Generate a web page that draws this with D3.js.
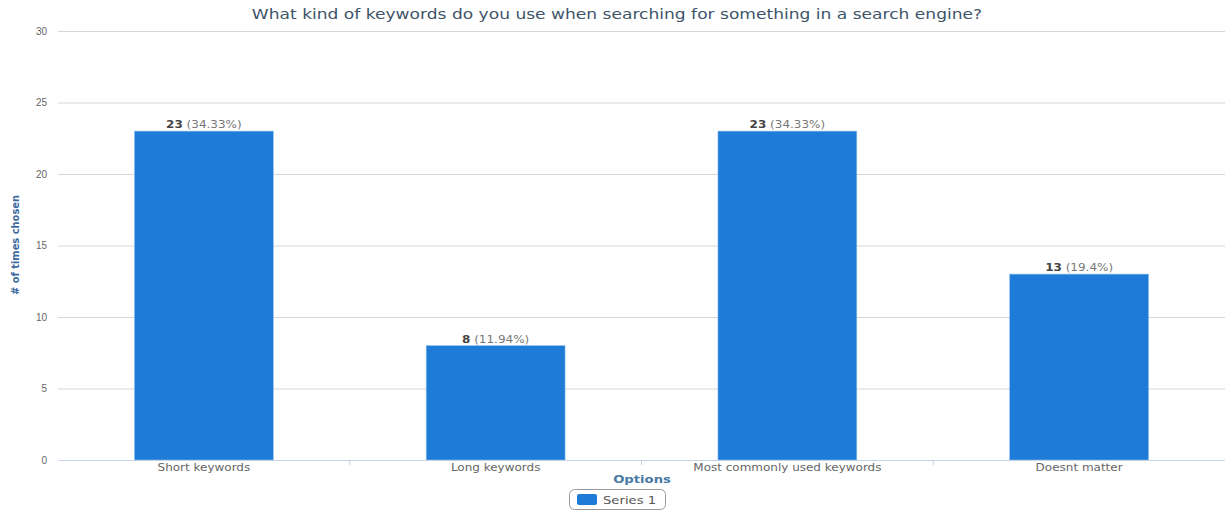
<!DOCTYPE html>
<html>
<head>
<meta charset="utf-8">
<script src="https://cdn.jsdelivr.net/npm/d3@7"></script>
<style>
  body { margin: 0; background: #fff; }
  svg { font-family: "DejaVu Sans", Verdana, sans-serif; }
</style>
</head>
<body>
<svg id="chart"></svg>
<script>
const categories = ['Short keywords', 'Long keywords', 'Most commonly used keywords', 'Doesnt matter'];
const counts = [23, 8, 23, 13];
const percents = ['34.33%', '11.94%', '34.33%', '19.4%'];
const yTicks = [0, 5, 10, 15, 20, 25, 30];

const width = 1225, height = 510;
const margin = {top: 31, right: 0, bottom: 50, left: 58};
const innerW = width - margin.left - margin.right;
const innerH = height - margin.top - margin.bottom;
const stretch = 1.2; // the source picture is a little wide

// put a text at (px,py) and widen it sideways
function place(sel, px, py, sx) {
  return sel.attr('x', 0).attr('y', 0)
    .attr('transform', (d, i) => {
      const tx = typeof px === 'function' ? px(d, i) : px;
      const ty = typeof py === 'function' ? py(d, i) : py;
      return `translate(${tx},${ty}) scale(${sx || stretch},1)`;
    });
}

const svg = d3.select('#chart').attr('width', width).attr('height', height);

svg.append('text')
    .call(place, 617, 19, 1.22)
    .attr('text-anchor', 'middle')
    .style('font-size', '14px')
    .style('fill', '#3e5468')
    .text('What kind of keywords do you use when searching for something in a search engine?');

const chart = svg.append('g')
    .attr('transform', `translate(${margin.left},${margin.top})`);

const x = d3.scaleBand().domain(categories).range([0, innerW]).paddingInner(0.524).paddingOuter(0.262);
const xOuter = d3.scaleBand().domain(categories).range([0, innerW]);
const y = d3.scaleLinear().domain([0, 30]).range([innerH, 0]);

// gridlines + y labels
const yAxis = d3.axisLeft(y).tickValues(yTicks).tickSize(-innerW).tickPadding(11);
chart.append('g')
    .call(yAxis)
    .call(g => g.select('.domain').remove())
    .call(g => g.selectAll('.tick line').attr('stroke', '#d6d6d6'))
    .call(g => g.selectAll('.tick text').style('fill', '#666').style('font-size', '10px').attr('font-family', null));

// bars
chart.selectAll('.bar')
    .data(counts)
    .enter()
  .append('rect')
    .attr('class', 'bar')
    .attr('x', (d, i) => x(categories[i]))
    .attr('y', d => y(d))
    .attr('width', x.bandwidth())
    .attr('height', d => innerH - y(d))
    .attr('fill', '#1e7bd7')
    .attr('stroke', '#8ec0ee')
    .attr('stroke-width', 0.6);

// value labels
const labels = chart.selectAll('.val')
    .data(counts)
    .enter()
  .append('text')
    .attr('class', 'val')
    .call(place, (d, i) => x(categories[i]) + x.bandwidth() / 2, d => y(d) - 3)
    .attr('text-anchor', 'middle')
    .style('font-size', '10px');
labels.append('tspan').style('font-weight', 'bold').style('fill', '#444').text(d => d);
labels.append('tspan').style('fill', '#777').text((d, i) => ` (${percents[i]})`);

// x axis
chart.append('line')
    .attr('x1', 0).attr('x2', innerW)
    .attr('y1', innerH + 0.5).attr('y2', innerH + 0.5)
    .attr('stroke', '#c5d3e3');

chart.selectAll('.sep')
    .data(categories.slice(1))
    .enter()
  .append('line')
    .attr('x1', d => xOuter(d)).attr('x2', d => xOuter(d))
    .attr('y1', innerH).attr('y2', innerH + 5)
    .attr('stroke', '#c5d3e3');

chart.selectAll('.cat')
    .data(categories)
    .enter()
  .append('text')
    .call(place, d => xOuter(d) + xOuter.bandwidth() / 2, innerH + 11)
    .attr('text-anchor', 'middle')
    .style('font-size', '10px')
    .style('fill', '#666')
    .text(d => d);

// axis titles
svg.append('text')
    .call(place, 642, 483)
    .attr('text-anchor', 'middle')
    .style('font-size', '11px')
    .style('font-weight', 'bold')
    .style('fill', '#4a7aa6')
    .text('Options');

svg.append('text')
    .attr('transform', 'translate(19,245) rotate(-90)')
    .attr('text-anchor', 'middle')
    .style('font-family', '"DejaVu Sans Condensed", "Liberation Sans Narrow", sans-serif')
    .style('font-size', '11px')
    .style('font-weight', 'bold')
    .style('fill', '#3d6a9e')
    .text('# of times chosen');

// legend
const legend = svg.append('g').attr('transform', 'translate(569,489)');
legend.append('rect')
    .attr('x', 0.5).attr('y', 0.5)
    .attr('width', 96).attr('height', 20)
    .attr('rx', 5)
    .attr('fill', '#fff')
    .attr('stroke', '#999');
legend.append('rect')
    .attr('x', 8).attr('y', 5)
    .attr('width', 20).attr('height', 11)
    .attr('rx', 2)
    .attr('fill', '#1e7bd7');
legend.append('text')
    .call(place, 34, 14.5)
    .style('font-size', '11px')
    .style('fill', '#555')
    .text('Series 1');
</script>
</body>
</html>
